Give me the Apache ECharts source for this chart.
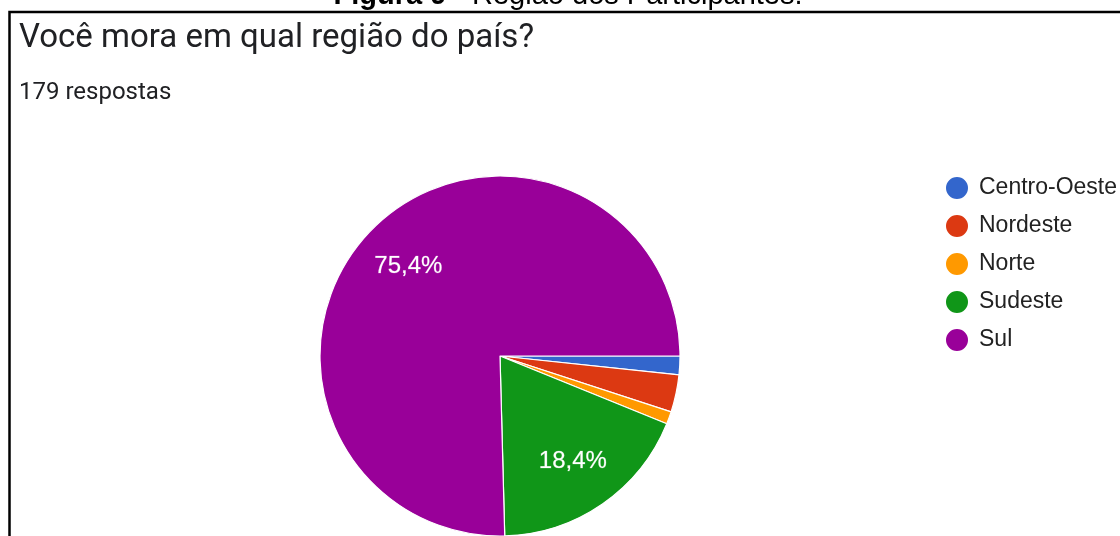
<!DOCTYPE html>
<html>
<head>
<meta charset="utf-8">
<title>Região dos Participantes</title>
<script src="https://cdn.jsdelivr.net/npm/echarts@6/dist/echarts.min.js"></script>
<style>
  html, body { margin: 0; padding: 0; background: #fff; }
  #chart { width: 1120px; height: 536px; }
</style>
</head>
<body>
<div id="chart"></div>
<script>
// dados (179 respostas)
const regioes = ['Centro-Oeste', 'Nordeste', 'Norte', 'Sudeste', 'Sul'];
const respostas = [3, 6, 2, 33, 135];
const cores = ['#3366cc', '#dc3912', '#ff9900', '#109618', '#990099'];

const total = respostas.reduce((a, b) => a + b, 0);

function pct(v) {
  return (v / total * 100).toFixed(1).replace('.', ',') + '%';
}

const chart = echarts.init(document.getElementById('chart'));

chart.setOption({
  animation: false,
  color: cores,
  title: {
    text: 'Você mora em qual região do país?',
    subtext: total + ' respostas',
    left: 14,
    top: 17,
    itemGap: 26,
    textStyle: {
      fontFamily: 'Roboto',
      fontSize: 33,
      fontWeight: 'normal',
      color: '#202124'
    },
    subtextStyle: {
      fontFamily: 'Roboto',
      fontSize: 24,
      color: '#202124'
    }
  },
  legend: {
    orient: 'vertical',
    left: 939,
    top: 170,
    icon: 'circle',
    itemWidth: 24,
    itemHeight: 24,
    itemGap: 12,
    data: regioes,
    selectedMode: false,
    textStyle: {
      fontFamily: 'Arial',
      fontSize: 23,
      color: '#222',
      padding: [0, 0, 0, 5]
    }
  },
  graphic: [
    {
      type: 'rect',
      shape: { x: 9.5, y: 12, width: 1200, height: 600 },
      style: { fill: 'none', stroke: '#000', lineWidth: 2.5 },
      silent: true
    },
    {
      type: 'text',
      x: 568,
      y: 10,
      style: {
        text: '{b|Figura 9} - Região dos Participantes.',
        align: 'center',
        verticalAlign: 'bottom',
        fontFamily: 'Arial',
        fontSize: 29,
        fill: '#000',
        rich: {
          b: { fontFamily: 'Arial', fontSize: 29, fontWeight: 'bold', fill: '#000' }
        }
      }
    }
  ],
  series: [
    {
      name: 'Região',
      type: 'pie',
      center: [500, 356],
      radius: 180,
      startAngle: 0,
      clockwise: true,
      silent: true,
      label: { show: false },
      labelLine: { show: false },
      itemStyle: { borderColor: '#fff', borderWidth: 1.2 },
      data: regioes.map((r, i) => ({ name: r, value: respostas[i] }))
    },
    {
      // camada só para os rótulos percentuais
      name: 'Rótulos',
      type: 'pie',
      center: [500, 356],
      radius: [70, 180],
      startAngle: 0,
      clockwise: true,
      silent: true,
      itemStyle: { color: 'rgba(0,0,0,0)', borderWidth: 0 },
      labelLine: { show: false },
      label: {
        position: 'inside',
        fontFamily: 'Arial',
        fontSize: 24,
        color: '#fff',
        textBorderColor: 'rgba(255,255,255,0.35)',
        textBorderWidth: 0.6,
        formatter: p => pct(p.value)
      },
      data: regioes.map((r, i) => ({
        name: r,
        value: respostas[i],
        label: { show: respostas[i] / total > 0.05 }
      }))
    }
  ]
});
</script>
</body>
</html>
